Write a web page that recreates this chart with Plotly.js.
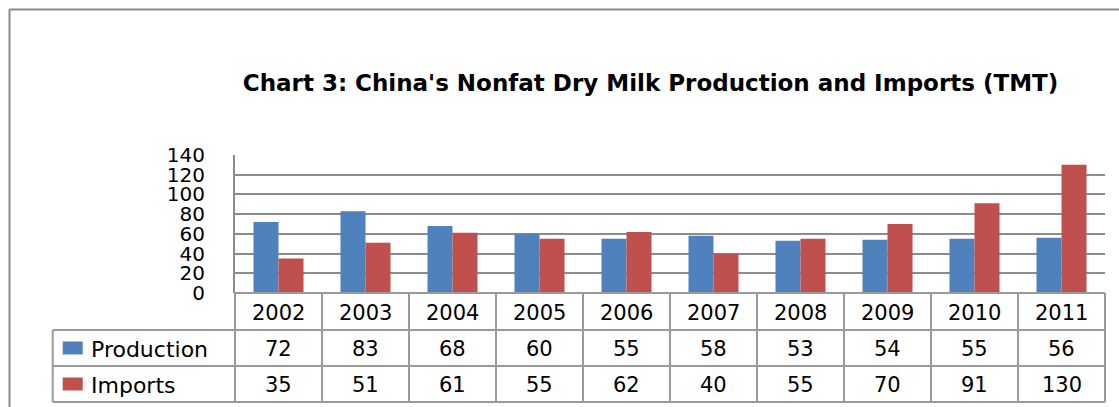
<!DOCTYPE html>
<html>
<head>
<meta charset="utf-8">
<script src="https://cdn.plot.ly/plotly-3.0.1.min.js"></script>
<style>html,body{margin:0;padding:0;background:#fff;}#chart{width:1119px;height:407px;}</style>
</head>
<body>
<div id="chart"></div>
<script>
// ---- data ----
var years = ['2002','2003','2004','2005','2006','2007','2008','2009','2010','2011'];
var production = [72, 83, 68, 60, 55, 58, 53, 54, 55, 56];
var imports = [35, 51, 61, 55, 62, 40, 55, 70, 91, 130];
var seriesNames = ['Production', 'Imports'];
var seriesColors = ['#4F81BD', '#C0504D'];
var yTicks = [0, 20, 40, 60, 80, 100, 120, 140];
var titleText = "Chart 3: China's Nonfat Dry Milk Production and Imports (TMT)";

// ---- layout geometry (pixels) ----
var W = 1119, H = 407;
var mL = 235, mR = 14, mT = 155, mB = 114;
var plotH = H - mT - mB; // 138
var plotW = W - mL - mR; // 870
function py(pix) { return (H - mB - pix) / plotH; } // pixel y -> paper y
function px(pix) { return (pix - mL) / plotW; }     // pixel x -> paper x

var gridCol = '#8c8c8c';
var tableCol = '#9a9a9a';
var font = 'DejaVu Sans, Verdana, sans-serif';
var fsz = 21;

var traces = [
  {type: 'bar', x: years, y: production, name: seriesNames[0],
   marker: {color: seriesColors[0], line: {width: 0}}, hoverinfo: 'x+y+name'},
  {type: 'bar', x: years, y: imports, name: seriesNames[1],
   marker: {color: seriesColors[1], line: {width: 0}}, hoverinfo: 'x+y+name'}
];

// table rows (pixel y boundaries)
var rowTop = 293, row1 = 330, row2 = 366, row3 = 402;
var tableLeft = 52.7;

var shapes = [];
var annotations = [];
function hline(x0, x1, yPix) {
  shapes.push({type: 'line', xref: 'paper', yref: 'paper', x0: px(x0), x1: px(x1), y0: py(yPix), y1: py(yPix),
    line: {color: tableCol, width: 2}});
}
// horizontal table lines
hline(mL, W - mR, rowTop);
hline(tableLeft, W - mR, row1);
hline(tableLeft, W - mR, row2);
hline(tableLeft, W - mR, row3);
// vertical table lines: left legend column and outer edges
shapes.push({type: 'line', xref: 'paper', yref: 'paper', x0: px(tableLeft), x1: px(tableLeft), y0: py(row1), y1: py(row3), line: {color: tableCol, width: 2}});
shapes.push({type: 'line', xref: 'paper', yref: 'paper', x0: 0, x1: 0, y0: py(rowTop), y1: py(row3), line: {color: tableCol, width: 2}});
shapes.push({type: 'line', xref: 'paper', yref: 'paper', x0: 1, x1: 1, y0: py(rowTop), y1: py(row3), line: {color: tableCol, width: 2}});
// category boundaries via the category axis
for (var i = 1; i < years.length; i++) {
  shapes.push({type: 'line', xref: 'x', yref: 'paper', x0: i - 0.5, x1: i - 0.5, y0: py(rowTop), y1: py(row3),
    line: {color: tableCol, width: 2}});
}
// outer chart border (top and left)
shapes.push({type: 'line', xref: 'paper', yref: 'paper', x0: px(9.5), x1: px(W + 5), y0: py(9.5), y1: py(9.5), line: {color: '#8a8a8a', width: 2}});
shapes.push({type: 'line', xref: 'paper', yref: 'paper', x0: px(9.5), x1: px(9.5), y0: py(9.5), y1: py(H + 5), line: {color: '#8a8a8a', width: 2}});

// header row (years) and values, placed on the category axis by index
var rows = [production, imports];
var rowMid = [(rowTop + row1) / 2, (row1 + row2) / 2, (row2 + row3) / 2];
for (var j = 0; j < years.length; j++) {
  annotations.push({xref: 'x', yref: 'paper', x: j, y: py(rowMid[0] + 1), text: years[j], showarrow: false,
    xanchor: 'center', yanchor: 'middle', font: {family: font, size: fsz, color: '#000'}});
  for (var r = 0; r < rows.length; r++) {
    annotations.push({xref: 'x', yref: 'paper', x: j, y: py(rowMid[r + 1] + 1), text: String(rows[r][j]), showarrow: false,
      xanchor: 'center', yanchor: 'middle', font: {family: font, size: fsz, color: '#000'}});
  }
}
// legend keys + names
for (var s = 0; s < seriesNames.length; s++) {
  var mid = rowMid[s + 1];
  shapes.push({type: 'rect', xref: 'paper', yref: 'paper', x0: px(62.7), x1: px(82.7), y0: py(mid - 6.5), y1: py(mid + 6.5),
    fillcolor: seriesColors[s], line: {width: 0}});
  annotations.push({xref: 'paper', yref: 'paper', x: px(89), y: py(mid + 1), text: seriesNames[s], showarrow: false,
    xanchor: 'left', yanchor: 'middle', font: {family: font, size: 22, color: '#000'}});
}

var layout = {
  width: W, height: H,
  margin: {l: mL, r: mR, t: mT, b: mB, pad: 0},
  paper_bgcolor: '#fff', plot_bgcolor: '#fff',
  showlegend: false,
  barmode: 'group', bargap: 0.425, bargroupgap: 0,
  title: {text: '<b>' + titleText + '</b>', x: 650.5 / W, xanchor: 'center', xref: 'container',
    y: 1 - 83 / H, yanchor: 'middle', yref: 'container',
    font: {family: font, size: 23, color: '#000'}},
  xaxis: {type: 'category', categoryorder: 'array', categoryarray: years, range: [-0.5, years.length - 0.5],
    showticklabels: false, showgrid: false, zeroline: false, showline: false, ticks: '', fixedrange: true},
  yaxis: {range: [0, 140], tickvals: yTicks, ticktext: yTicks.map(String), showgrid: true, gridcolor: gridCol, gridwidth: 2,
    zeroline: false, showline: true, linecolor: gridCol, linewidth: 2, ticks: '', ticklabelstandoff: 24,
    tickfont: {family: font, size: 20, color: '#000'}, fixedrange: true},
  shapes: shapes,
  annotations: annotations
};

Plotly.newPlot('chart', traces, layout, {displayModeBar: false, staticPlot: true});
</script>
</body>
</html>
